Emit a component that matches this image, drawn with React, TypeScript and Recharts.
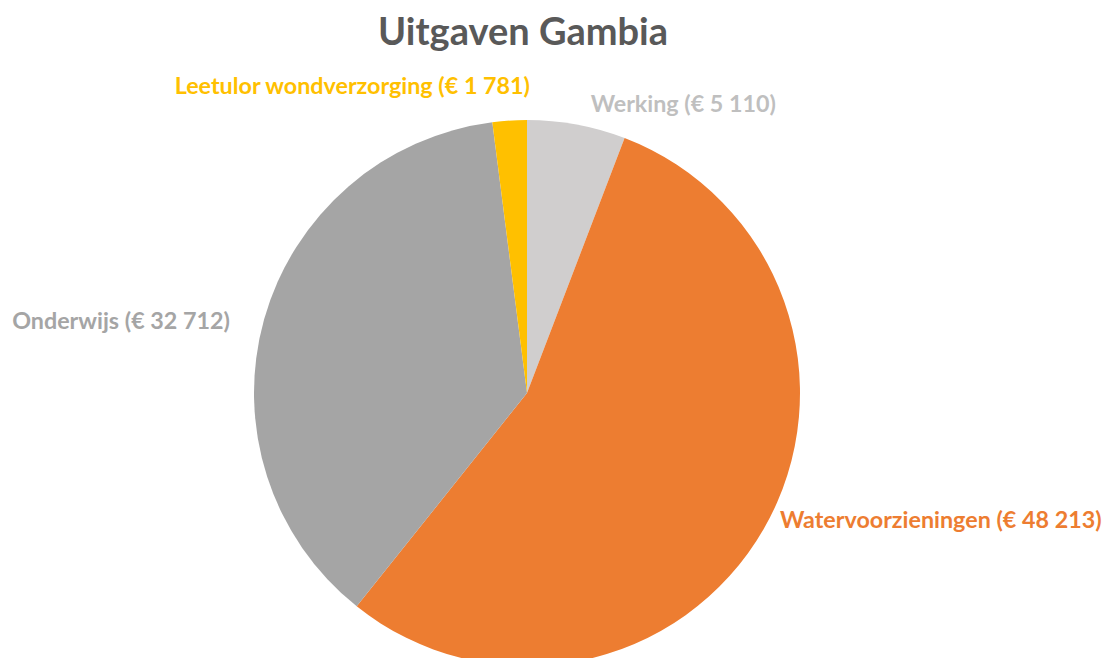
import React from "react";
import { PieChart, Pie, Cell } from "recharts";

const categories = ["Werking", "Watervoorzieningen", "Onderwijs", "Leetulor wondverzorging"];
const amounts = [5110, 48213, 32712, 1781];
const amountLabels = ["€ 5 110", "€ 48 213", "€ 32 712", "€ 1 781"];
const colors = ["#D0CECE", "#ED7D31", "#A5A5A5", "#FFC000"];
const labelColors = ["#BFBFBF", "#ED7D31", "#A5A5A5", "#FFC000"];

const data = categories.map((name, i) => ({ name, value: amounts[i], label: amountLabels[i] }));

const FONT = "Lato, 'Open Sans', sans-serif";
const RADIAN = Math.PI / 180;
// best-fit label nudges (like the spreadsheet's placement)
const nudges = [
  [10, 0],
  [-3, -20],
  [-13, 7],
  [0, 0],
];

const renderLabel = (props: any) => {
  const { cx, cy, midAngle, outerRadius, index } = props;
  const r = outerRadius + 22;
  const cos = Math.cos(-midAngle * RADIAN);
  const sin = Math.sin(-midAngle * RADIAN);
  let x = cx + r * cos + nudges[index][0];
  let y = cy + r * sin + nudges[index][1];
  let anchor: "start" | "end" = cos >= 0 ? "start" : "end";
  if (Math.abs(cos) < 0.1) {
    anchor = "end";
    x = cx + 3;
    y = cy - outerRadius - 35;
  }
  return (
    <text
      x={x}
      y={y}
      textAnchor={anchor}
      dominantBaseline="central"
      fill={labelColors[index]}
      fontFamily={FONT}
      fontWeight={700}
      fontSize={23.3}
    >
      {`${data[index].name} (${data[index].label})`}
    </text>
  );
};

export default function App() {
  return (
    <div style={{ position: "relative", width: 1110, height: 666, margin: -8, background: "#fff" }}>
      <div
        style={{
          position: "absolute",
          left: 0,
          top: 7,
          width: 1046,
          textAlign: "center",
          fontFamily: FONT,
          fontWeight: 700,
          fontSize: 38,
          lineHeight: "46px",
          color: "#595959",
        }}
      >
        Uitgaven Gambia
      </div>
      <PieChart
        width={1110}
        height={666}
        margin={{ top: 0, right: 0, bottom: 0, left: 0 }}
        style={{ position: "absolute", left: 0, top: 0, overflow: "visible" }}
      >
        <Pie
          data={data}
          dataKey="value"
          nameKey="name"
          cx={527}
          cy={393}
          outerRadius={273}
          startAngle={90}
          endAngle={-270}
          stroke="none"
          isAnimationActive={false}
          labelLine={false}
          label={renderLabel}
        >
          {data.map((d, i) => (
            <Cell key={d.name} fill={colors[i]} />
          ))}
        </Pie>
      </PieChart>
    </div>
  );
}
